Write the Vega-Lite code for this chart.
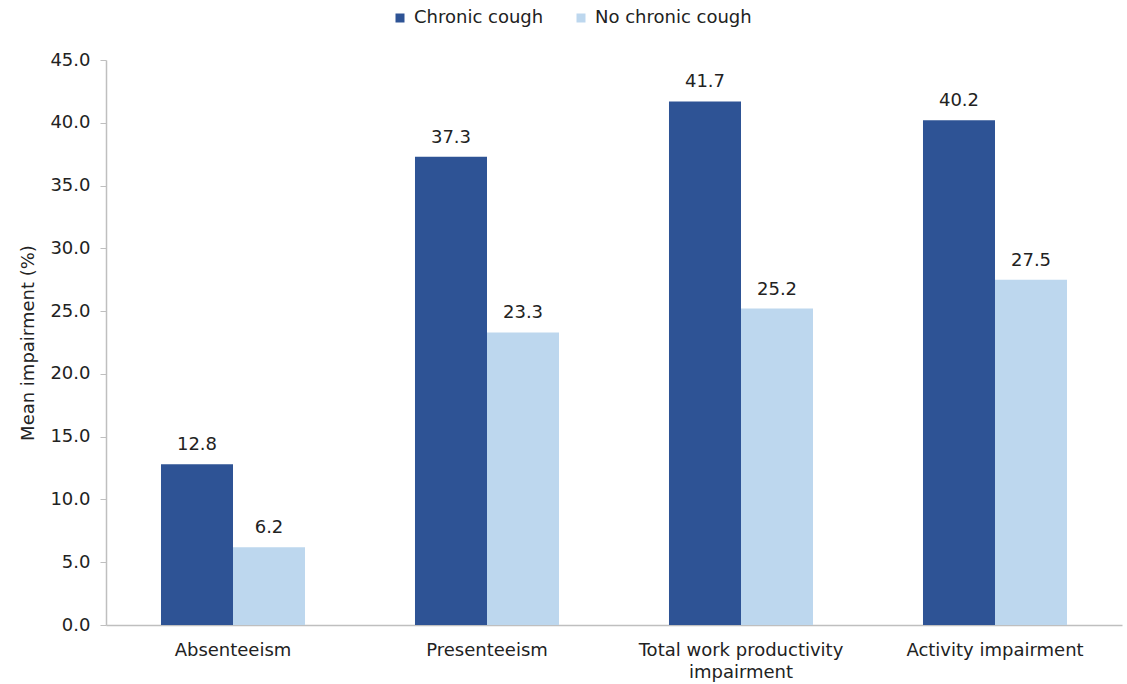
{
  "$schema": "https://vega.github.io/schema/vega-lite/v6.json",
  "autosize": "none",
  "width": 1016,
  "height": 565,
  "padding": {"left": 106, "top": 60, "right": 5, "bottom": 59},
  "background": "white",
  "config": {
    "view": {"stroke": null},
    "font": "DejaVu Sans",
    "text": {"font": "DejaVu Sans"}
  },
  "data": {
    "values": [
      {"measure": "Absenteeism", "group": "Chronic cough", "value": 12.8},
      {"measure": "Absenteeism", "group": "No chronic cough", "value": 6.2},
      {"measure": "Presenteeism", "group": "Chronic cough", "value": 37.3},
      {"measure": "Presenteeism", "group": "No chronic cough", "value": 23.3},
      {"measure": "Total work productivity impairment", "group": "Chronic cough", "value": 41.7},
      {"measure": "Total work productivity impairment", "group": "No chronic cough", "value": 25.2},
      {"measure": "Activity impairment", "group": "Chronic cough", "value": 40.2},
      {"measure": "Activity impairment", "group": "No chronic cough", "value": 27.5}
    ]
  },
  "encoding": {
    "x": {
      "field": "measure",
      "type": "nominal",
      "sort": ["Absenteeism", "Presenteeism", "Total work productivity impairment", "Activity impairment"],
      "scale": {"paddingInner": 0.433, "paddingOuter": 0.2165},
      "axis": {
        "title": null,
        "labelAngle": 0,
        "ticks": false,
        "domainColor": "#bfbfbf",
        "domainWidth": 1.5,
        "labelFont": "DejaVu Sans",
        "labelFontSize": 18,
        "labelColor": "#222222",
        "labelPadding": 16,
        "labelLineHeight": 22,
        "labelLimit": 400,
        "labelExpr": "datum.value == 'Total work productivity impairment' ? ['Total work productivity', 'impairment'] : datum.value"
      }
    },
    "xOffset": {
      "field": "group",
      "type": "nominal",
      "sort": ["Chronic cough", "No chronic cough"],
      "scale": {"paddingInner": 0, "paddingOuter": 0}
    },
    "y": {
      "field": "value",
      "type": "quantitative",
      "scale": {"domain": [0, 45], "nice": false},
      "axis": {
        "title": "Mean impairment (%)",
        "titleFont": "DejaVu Sans",
        "titleFontSize": 18,
        "titleFontWeight": "normal",
        "titleColor": "#222222",
        "titlePadding": 12,
        "values": [0, 5, 10, 15, 20, 25, 30, 35, 40, 45],
        "format": ".1f",
        "grid": false,
        "domainColor": "#bfbfbf",
        "domainWidth": 1.5,
        "tickColor": "#bfbfbf",
        "tickSize": 6,
        "labelFont": "DejaVu Sans",
        "labelFontSize": 18,
        "labelColor": "#222222",
        "labelPadding": 10
      }
    }
  },
  "layer": [
    {
      "mark": {"type": "bar"},
      "encoding": {
        "color": {
          "field": "group",
          "type": "nominal",
          "sort": ["Chronic cough", "No chronic cough"],
          "scale": {"domain": ["Chronic cough", "No chronic cough"], "range": ["#2E5395", "#BDD7EE"]},
          "legend": {
            "title": null,
            "orient": "none",
            "direction": "horizontal",
            "legendX": 285,
            "legendY": -51,
            "symbolType": "square",
            "symbolSize": 81,
            "symbolStrokeWidth": 0,
            "labelFont": "DejaVu Sans",
            "labelFontSize": 18,
            "labelColor": "#222222",
            "labelOffset": 5,
            "columnPadding": 28
          }
        }
      }
    },
    {
      "mark": {"type": "text", "baseline": "bottom", "dy": -10, "fontSize": 18, "color": "#222222", "font": "DejaVu Sans"},
      "encoding": {
        "text": {"field": "value", "type": "quantitative", "format": ".1f"}
      }
    }
  ]
}
